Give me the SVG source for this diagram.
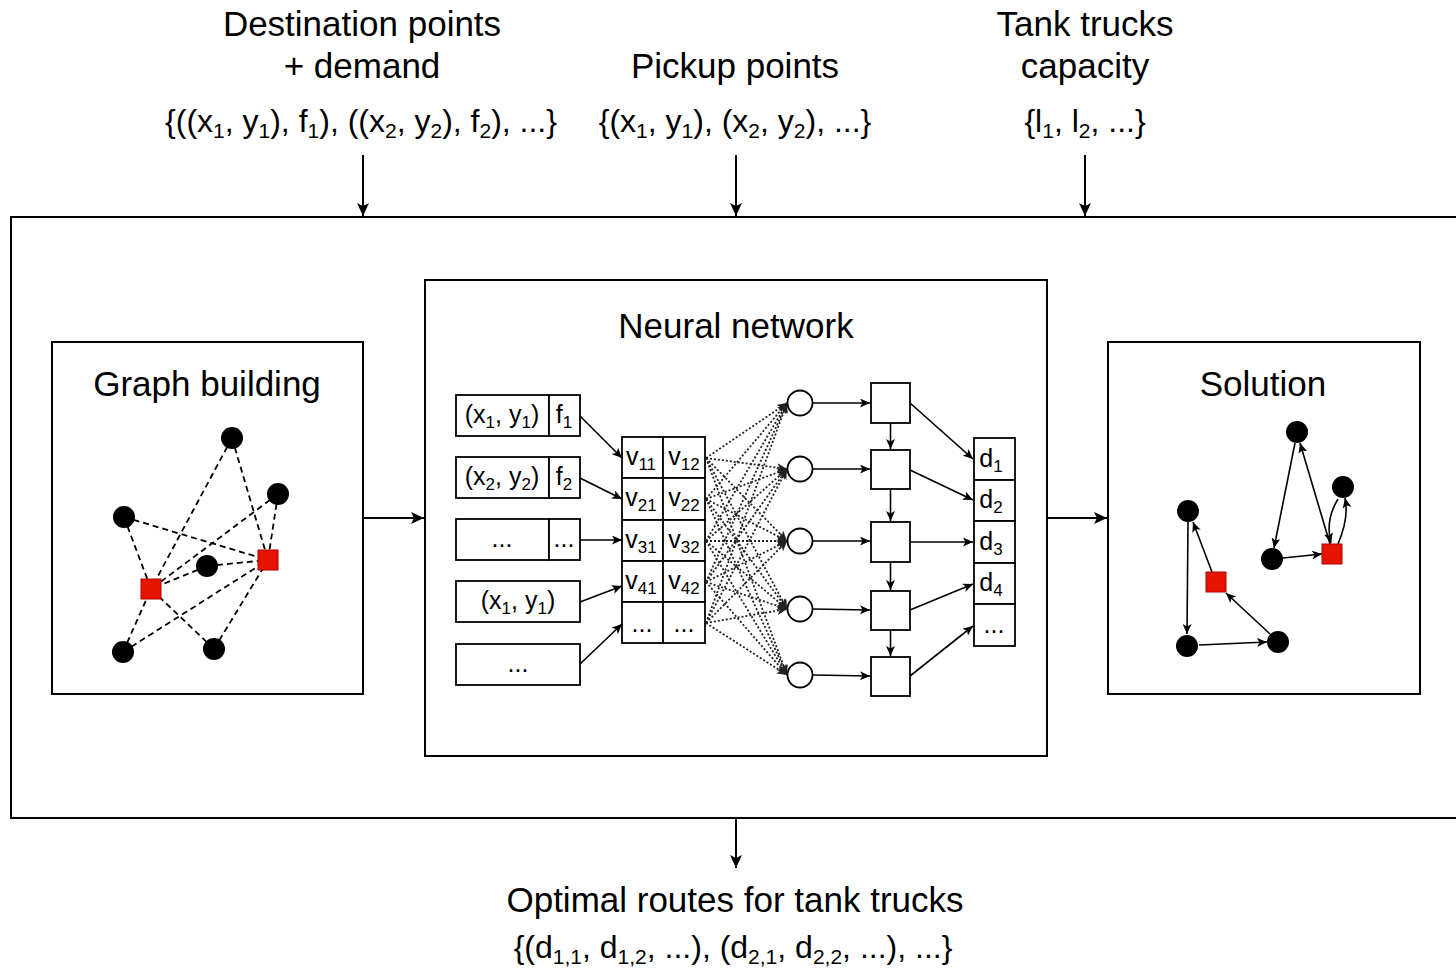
<svg xmlns="http://www.w3.org/2000/svg" width="1456" height="968" viewBox="0 0 1456 968">
<style>
text{font-family:"Liberation Sans",Arial,sans-serif;fill:#000}
.t{font-size:35px}
.f{font-size:32px}
.s{font-size:21px}
.n{font-size:25px}
.ns{font-size:17px}
.box{fill:#fff;stroke:#000;stroke-width:2}
.cell{fill:#fff;stroke:#000;stroke-width:1.8}
.ln{stroke:#000;stroke-width:1.6;fill:none}
.big{stroke:#000;stroke-width:2;fill:none}
.dash{stroke:#000;stroke-width:1.8;fill:none;stroke-dasharray:6 4}
.dot{stroke:#222;stroke-width:1.8;fill:none;stroke-dasharray:2 2}
.blk{fill:#000}
.red{fill:#e51400;stroke:#b20000;stroke-width:1}
</style>
<defs>
<marker id="ab" markerUnits="userSpaceOnUse" markerWidth="14" markerHeight="12" refX="13" refY="6" orient="auto">
<path d="M0,0 L13,6 L0,12 L3,6 Z" fill="#000"/>
</marker>
<marker id="as" markerUnits="userSpaceOnUse" markerWidth="11" markerHeight="9" refX="10" refY="4.5" orient="auto">
<path d="M0,0 L10,4.5 L0,9 L2.5,4.5 Z" fill="#000"/>
</marker>
<marker id="ad" markerUnits="userSpaceOnUse" markerWidth="11" markerHeight="9" refX="10" refY="4.5" orient="auto">
<path d="M0,0 L10,4.5 L0,9 L2.5,4.5 Z" fill="#222"/>
</marker>
</defs>

<g id="inputs">
<text class="t" x="362" y="36" text-anchor="middle">Destination points</text>
<text class="t" x="362" y="78" text-anchor="middle">+ demand</text>
<text class="f" x="361" y="132" text-anchor="middle">{((x<tspan class="s" dy="6">1</tspan><tspan dy="-6">, y</tspan><tspan class="s" dy="6">1</tspan><tspan dy="-6">), f</tspan><tspan class="s" dy="6">1</tspan><tspan dy="-6">), ((x</tspan><tspan class="s" dy="6">2</tspan><tspan dy="-6">, y</tspan><tspan class="s" dy="6">2</tspan><tspan dy="-6">), f</tspan><tspan class="s" dy="6">2</tspan><tspan dy="-6">), ...}</tspan></text>
<text class="t" x="735" y="78" text-anchor="middle">Pickup points</text>
<text class="f" x="735" y="132" text-anchor="middle">{(x<tspan class="s" dy="6">1</tspan><tspan dy="-6">, y</tspan><tspan class="s" dy="6">1</tspan><tspan dy="-6">), (x</tspan><tspan class="s" dy="6">2</tspan><tspan dy="-6">, y</tspan><tspan class="s" dy="6">2</tspan><tspan dy="-6">), ...}</tspan></text>
<text class="t" x="1085" y="36" text-anchor="middle">Tank trucks</text>
<text class="t" x="1085" y="78" text-anchor="middle">capacity</text>
<text class="f" x="1085" y="132" text-anchor="middle">{l<tspan class="s" dy="6">1</tspan><tspan dy="-6">, l</tspan><tspan class="s" dy="6">2</tspan><tspan dy="-6">, ...}</tspan></text>
</g>

<g id="system">
<rect class="box" x="11" y="217" width="1460" height="601"/>
</g>

<g id="output">
<text class="t" x="735" y="912" text-anchor="middle">Optimal routes for tank trucks</text>
<text class="f" x="733" y="958" text-anchor="middle">{(d<tspan class="s" dy="6">1,1</tspan><tspan dy="-6">, d</tspan><tspan class="s" dy="6">1,2</tspan><tspan dy="-6">, ...), (d</tspan><tspan class="s" dy="6">2,1</tspan><tspan dy="-6">, d</tspan><tspan class="s" dy="6">2,2</tspan><tspan dy="-6">, ...), ...}</tspan></text>
</g>

<g id="graph-building">
<rect class="box" x="52" y="342" width="311" height="352"/>
<text class="t" x="207" y="396" text-anchor="middle">Graph building</text>
<g class="edges">
<line class="dash" x1="232" y1="438" x2="151" y2="589"/>
<line class="dash" x1="232" y1="438" x2="268" y2="560"/>
<line class="dash" x1="278" y1="494" x2="151" y2="589"/>
<line class="dash" x1="278" y1="494" x2="268" y2="560"/>
<line class="dash" x1="124" y1="517" x2="268" y2="560"/>
<line class="dash" x1="124" y1="517" x2="151" y2="589"/>
<line class="dash" x1="207" y1="566" x2="268" y2="560"/>
<line class="dash" x1="207" y1="566" x2="151" y2="589"/>
<line class="dash" x1="123" y1="652" x2="268" y2="560"/>
<line class="dash" x1="123" y1="652" x2="151" y2="589"/>
<line class="dash" x1="214" y1="649" x2="151" y2="589"/>
<line class="dash" x1="214" y1="649" x2="268" y2="560"/>
</g>
<circle class="blk" cx="232" cy="438" r="11"/>
<circle class="blk" cx="278" cy="494" r="11"/>
<circle class="blk" cx="124" cy="517" r="11"/>
<circle class="blk" cx="207" cy="566" r="11"/>
<circle class="blk" cx="123" cy="652" r="11"/>
<circle class="blk" cx="214" cy="649" r="11"/>
<rect class="red" x="141" y="579" width="20" height="20"/>
<rect class="red" x="258" y="550" width="20" height="20"/>
</g>

<g id="neural-network">
<rect class="box" x="425" y="280" width="622" height="476"/>
<text class="t" x="736" y="338" text-anchor="middle">Neural network</text>
</g>

<g id="input-rows">
<rect class="cell" x="456" y="395" width="93" height="41"/><rect class="cell" x="549" y="395" width="31" height="41"/>
<rect class="cell" x="456" y="457" width="93" height="41"/><rect class="cell" x="549" y="457" width="31" height="41"/>
<rect class="cell" x="456" y="519" width="93" height="41"/><rect class="cell" x="549" y="519" width="31" height="41"/>
<rect class="cell" x="456" y="581" width="124" height="41"/>
<rect class="cell" x="456" y="644" width="124" height="41"/>
<text class="n" x="502" y="423" text-anchor="middle">(x<tspan class="ns" dy="5">1</tspan><tspan dy="-5">, y</tspan><tspan class="ns" dy="5">1</tspan><tspan dy="-5">)</tspan></text>
<text class="n" x="564" y="423" text-anchor="middle">f<tspan class="ns" dy="5">1</tspan></text>
<text class="n" x="502" y="485" text-anchor="middle">(x<tspan class="ns" dy="5">2</tspan><tspan dy="-5">, y</tspan><tspan class="ns" dy="5">2</tspan><tspan dy="-5">)</tspan></text>
<text class="n" x="564" y="485" text-anchor="middle">f<tspan class="ns" dy="5">2</tspan></text>
<text class="n" x="502" y="547" text-anchor="middle">...</text>
<text class="n" x="564" y="547" text-anchor="middle">...</text>
<text class="n" x="518" y="609" text-anchor="middle">(x<tspan class="ns" dy="5">1</tspan><tspan dy="-5">, y</tspan><tspan class="ns" dy="5">1</tspan><tspan dy="-5">)</tspan></text>
<text class="n" x="518" y="672" text-anchor="middle">...</text>
</g>

<g id="embedding-table">
<rect class="cell" x="622" y="437" width="41" height="41"/><rect class="cell" x="663" y="437" width="42" height="41"/>
<rect class="cell" x="622" y="478" width="41" height="42"/><rect class="cell" x="663" y="478" width="42" height="42"/>
<rect class="cell" x="622" y="520" width="41" height="41"/><rect class="cell" x="663" y="520" width="42" height="41"/>
<rect class="cell" x="622" y="561" width="41" height="41"/><rect class="cell" x="663" y="561" width="42" height="41"/>
<rect class="cell" x="622" y="602" width="41" height="41"/><rect class="cell" x="663" y="602" width="42" height="41"/>
<text class="n" x="641" y="465" text-anchor="middle">v<tspan class="ns" dy="5">11</tspan></text>
<text class="n" x="684" y="465" text-anchor="middle">v<tspan class="ns" dy="5">12</tspan></text>
<text class="n" x="641" y="506" text-anchor="middle">v<tspan class="ns" dy="5">21</tspan></text>
<text class="n" x="684" y="506" text-anchor="middle">v<tspan class="ns" dy="5">22</tspan></text>
<text class="n" x="641" y="548" text-anchor="middle">v<tspan class="ns" dy="5">31</tspan></text>
<text class="n" x="684" y="548" text-anchor="middle">v<tspan class="ns" dy="5">32</tspan></text>
<text class="n" x="641" y="589" text-anchor="middle">v<tspan class="ns" dy="5">41</tspan></text>
<text class="n" x="684" y="589" text-anchor="middle">v<tspan class="ns" dy="5">42</tspan></text>
<text class="n" x="642" y="632" text-anchor="middle">...</text>
<text class="n" x="684" y="632" text-anchor="middle">...</text>
</g>

<g id="neurons">
<circle class="cell" cx="800" cy="403" r="12.5"/>
<circle class="cell" cx="800" cy="469" r="12.5"/>
<circle class="cell" cx="800" cy="541" r="12.5"/>
<circle class="cell" cx="800" cy="609" r="12.5"/>
<circle class="cell" cx="800" cy="675" r="12.5"/>
</g>

<g id="decoder">
<rect class="cell" x="871" y="383" width="39" height="40"/>
<rect class="cell" x="871" y="450" width="39" height="39"/>
<rect class="cell" x="871" y="522" width="39" height="40"/>
<rect class="cell" x="871" y="591" width="39" height="39"/>
<rect class="cell" x="871" y="657" width="39" height="39"/>
</g>

<g id="output-table">
<rect class="cell" x="974" y="438" width="41" height="42"/>
<rect class="cell" x="974" y="480" width="41" height="41"/>
<rect class="cell" x="974" y="521" width="41" height="42"/>
<rect class="cell" x="974" y="563" width="41" height="41"/>
<rect class="cell" x="974" y="604" width="41" height="42"/>
<text class="n" x="991" y="467" text-anchor="middle">d<tspan class="ns" dy="5">1</tspan></text>
<text class="n" x="991" y="508" text-anchor="middle">d<tspan class="ns" dy="5">2</tspan></text>
<text class="n" x="991" y="550" text-anchor="middle">d<tspan class="ns" dy="5">3</tspan></text>
<text class="n" x="991" y="591" text-anchor="middle">d<tspan class="ns" dy="5">4</tspan></text>
<text class="n" x="994" y="633" text-anchor="middle">...</text>
</g>

<g id="solution">
<rect class="box" x="1108" y="342" width="312" height="352"/>
<text class="t" x="1263" y="396" text-anchor="middle">Solution</text>
<g class="edges">
<line class="ln" x1="1188" y1="522" x2="1187" y2="634" marker-end="url(#as)"/>
<line class="ln" x1="1199" y1="645" x2="1267" y2="642" marker-end="url(#as)"/>
<line class="ln" x1="1270" y1="634" x2="1226" y2="593" marker-end="url(#as)"/>
<line class="ln" x1="1212" y1="572" x2="1193" y2="522" marker-end="url(#as)"/>
<line class="ln" x1="1295" y1="443" x2="1274" y2="548" marker-end="url(#as)"/>
<line class="ln" x1="1283" y1="558" x2="1322" y2="554" marker-end="url(#as)"/>
<line class="ln" x1="1330" y1="544" x2="1300" y2="443" marker-end="url(#as)"/>
<path class="ln" d="M1338,544 C1344,530 1348,512 1345,498" marker-end="url(#as)"/>
<path class="ln" d="M1338,499 C1330,512 1327,528 1331,543" marker-end="url(#as)"/>
</g>
<circle class="blk" cx="1188" cy="511" r="11"/>
<circle class="blk" cx="1297" cy="432" r="11"/>
<circle class="blk" cx="1343" cy="487" r="11"/>
<circle class="blk" cx="1272" cy="559" r="11"/>
<circle class="blk" cx="1187" cy="646" r="11"/>
<circle class="blk" cx="1278" cy="642" r="11"/>
<rect class="red" x="1206" y="572" width="20" height="20"/>
<rect class="red" x="1322" y="544" width="20" height="20"/>
</g>

<g id="connectors">
<line class="big" x1="363" y1="155" x2="363" y2="216" marker-end="url(#ab)"/>
<line class="big" x1="736" y1="155" x2="736" y2="216" marker-end="url(#ab)"/>
<line class="big" x1="1085" y1="155" x2="1085" y2="216" marker-end="url(#ab)"/>
<line class="big" x1="736" y1="819" x2="736" y2="868" marker-end="url(#ab)"/>
<line class="big" x1="363" y1="518" x2="424" y2="518" marker-end="url(#ab)"/>
<line class="big" x1="1047" y1="518" x2="1107" y2="518" marker-end="url(#ab)"/>

<line class="ln" x1="580" y1="416" x2="622" y2="458" marker-end="url(#as)"/>
<line class="ln" x1="580" y1="478" x2="622" y2="499" marker-end="url(#as)"/>
<line class="ln" x1="580" y1="540" x2="622" y2="540" marker-end="url(#as)"/>
<line class="ln" x1="580" y1="602" x2="622" y2="586" marker-end="url(#as)"/>
<line class="ln" x1="580" y1="664" x2="622" y2="624" marker-end="url(#as)"/>

<g id="dense">
<line class="dot" x1="706" y1="458" x2="787" y2="403" marker-end="url(#ad)"/>
<line class="dot" x1="706" y1="458" x2="787" y2="469" marker-end="url(#ad)"/>
<line class="dot" x1="706" y1="458" x2="787" y2="541" marker-end="url(#ad)"/>
<line class="dot" x1="706" y1="458" x2="787" y2="609" marker-end="url(#ad)"/>
<line class="dot" x1="706" y1="458" x2="787" y2="675" marker-end="url(#ad)"/>
<line class="dot" x1="706" y1="499" x2="787" y2="403" marker-end="url(#ad)"/>
<line class="dot" x1="706" y1="499" x2="787" y2="469" marker-end="url(#ad)"/>
<line class="dot" x1="706" y1="499" x2="787" y2="541" marker-end="url(#ad)"/>
<line class="dot" x1="706" y1="499" x2="787" y2="609" marker-end="url(#ad)"/>
<line class="dot" x1="706" y1="499" x2="787" y2="675" marker-end="url(#ad)"/>
<line class="dot" x1="706" y1="541" x2="787" y2="403" marker-end="url(#ad)"/>
<line class="dot" x1="706" y1="541" x2="787" y2="469" marker-end="url(#ad)"/>
<line class="dot" x1="706" y1="541" x2="787" y2="541" marker-end="url(#ad)"/>
<line class="dot" x1="706" y1="541" x2="787" y2="609" marker-end="url(#ad)"/>
<line class="dot" x1="706" y1="541" x2="787" y2="675" marker-end="url(#ad)"/>
<line class="dot" x1="706" y1="582" x2="787" y2="403" marker-end="url(#ad)"/>
<line class="dot" x1="706" y1="582" x2="787" y2="469" marker-end="url(#ad)"/>
<line class="dot" x1="706" y1="582" x2="787" y2="541" marker-end="url(#ad)"/>
<line class="dot" x1="706" y1="582" x2="787" y2="609" marker-end="url(#ad)"/>
<line class="dot" x1="706" y1="582" x2="787" y2="675" marker-end="url(#ad)"/>
<line class="dot" x1="706" y1="623" x2="787" y2="403" marker-end="url(#ad)"/>
<line class="dot" x1="706" y1="623" x2="787" y2="469" marker-end="url(#ad)"/>
<line class="dot" x1="706" y1="623" x2="787" y2="541" marker-end="url(#ad)"/>
<line class="dot" x1="706" y1="623" x2="787" y2="609" marker-end="url(#ad)"/>
<line class="dot" x1="706" y1="623" x2="787" y2="675" marker-end="url(#ad)"/>
</g>

<line class="ln" x1="813" y1="403" x2="870" y2="403" marker-end="url(#as)"/>
<line class="ln" x1="813" y1="469" x2="870" y2="469" marker-end="url(#as)"/>
<line class="ln" x1="813" y1="541" x2="870" y2="541" marker-end="url(#as)"/>
<line class="ln" x1="813" y1="609" x2="870" y2="610" marker-end="url(#as)"/>
<line class="ln" x1="813" y1="675" x2="870" y2="676" marker-end="url(#as)"/>

<line class="ln" x1="890.5" y1="423" x2="890.5" y2="449" marker-end="url(#as)"/>
<line class="ln" x1="890.5" y1="489" x2="890.5" y2="521" marker-end="url(#as)"/>
<line class="ln" x1="890.5" y1="562" x2="890.5" y2="590" marker-end="url(#as)"/>
<line class="ln" x1="890.5" y1="630" x2="890.5" y2="656" marker-end="url(#as)"/>

<line class="ln" x1="910" y1="403" x2="973" y2="459" marker-end="url(#as)"/>
<line class="ln" x1="910" y1="470" x2="973" y2="500" marker-end="url(#as)"/>
<line class="ln" x1="910" y1="542" x2="973" y2="542" marker-end="url(#as)"/>
<line class="ln" x1="910" y1="610" x2="973" y2="584" marker-end="url(#as)"/>
<line class="ln" x1="910" y1="676" x2="973" y2="626" marker-end="url(#as)"/>
</g>
</svg>
